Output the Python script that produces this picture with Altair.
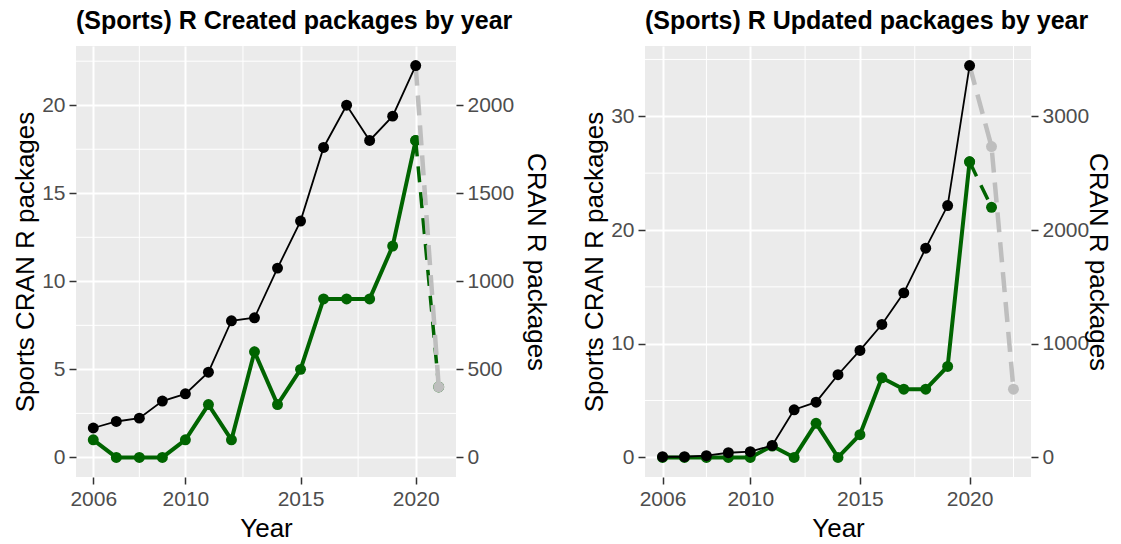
import altair as alt
import pandas as pd

# ---- Created packages (per year) ----
years = [2006, 2007, 2008, 2009, 2010, 2011, 2012, 2013, 2014,
         2015, 2016, 2017, 2018, 2019, 2020]
cran_created = [167, 204, 223, 320, 361, 484, 776, 793, 1075,
                1342, 1760, 2000, 1800, 1938, 2225]
sports_created = [1, 0, 0, 0, 1, 3, 1, 6, 3, 5, 9, 9, 9, 12, 18]
proj_years_created = [2020, 2021]
proj_cran_created = [2225, 400]
proj_sports_created = [18, 4]

# ---- Updated packages (per year) ----
cran_updated = [6, 6, 15, 41, 50, 105, 419, 486, 727,
                941, 1169, 1447, 1840, 2215, 3446]
sports_updated = [0, 0, 0, 0, 0, 1, 0, 3, 0, 2, 7, 6, 6, 8, 26]
proj_years_updated_cran = [2020, 2021, 2022]
proj_cran_updated = [3446, 2734, 600]
proj_years_updated_sports = [2020, 2021]
proj_sports_updated = [26, 22]

# ---- axis breaks ----
x_breaks = [2006, 2010, 2015, 2020]

FONT = "Liberation Sans"
GREEN = "#006400"
GREY = "#BEBEBE"
SEC = 100  # secondary axis = primary * 100


def expand(lo, hi, mult=0.05):
    span = hi - lo
    return [lo - span * mult, hi + span * mult]


def minor_breaks(breaks, lo, hi):
    b = list(breaks)
    step = b[1] - b[0]
    if lo < b[0]:
        b = [b[0] - step] + b
    if hi > b[-1]:
        b = b + [b[-1] + step]
    mids = [(a + c) / 2 for a, c in zip(b[:-1], b[1:])]
    return [m for m in mids if lo <= m <= hi and m not in breaks]


def panel(title, cran, sports, py_cran, p_cran, py_sports, p_sports,
          y_breaks, width, right_title_pad):
    all_years = years + py_cran + py_sports
    x_dom = expand(min(all_years), max(all_years))
    prim_max = max(max(cran) / SEC, max(sports), max(p_cran) / SEC, max(p_sports))
    y_dom = expand(0, prim_max)
    sec_dom = [v * SEC for v in y_dom]

    xs = alt.Scale(domain=x_dom, nice=False, zero=False)
    ys = alt.Scale(domain=y_dom, nice=False, zero=False)
    ss = alt.Scale(domain=sec_dom, nice=False, zero=False)
    x_axis = alt.Axis(values=x_breaks, format="d", title="Year", grid=True,
                      labelFlush=False, titlePadding=6)
    y_axis = alt.Axis(values=y_breaks, format="d", title="Sports CRAN R packages",
                      grid=True, labelFlush=False)
    s_axis = alt.Axis(values=[v * SEC for v in y_breaks], format="d",
                      title="CRAN R packages", orient="right", grid=False,
                      titlePadding=right_title_pad, labelFlush=False)

    obs = pd.DataFrame({"Year": years, "cran": cran, "sports": sports})
    proj_c = pd.DataFrame({"Year": py_cran, "cran": p_cran})
    proj_s = pd.DataFrame({"Year": py_sports, "sports": p_sports})
    mx = pd.DataFrame({"Year": minor_breaks(x_breaks, *x_dom)})
    my = pd.DataFrame({"sports": minor_breaks(y_breaks, *y_dom)})

    X = alt.X("Year:Q", scale=xs, axis=x_axis)
    Y = alt.Y("sports:Q", scale=ys, axis=y_axis)
    S = alt.Y("cran:Q", scale=ss, axis=s_axis)

    grid_x = alt.Chart(mx).mark_rule(color="white", strokeWidth=1).encode(x=X)
    grid_y = alt.Chart(my).mark_rule(color="white", strokeWidth=1).encode(y=Y)
    green_dash = alt.Chart(proj_s).mark_line(
        color=GREEN, strokeWidth=3.5, strokeDash=[16, 10]).encode(x=X, y=Y)
    green_line = alt.Chart(obs).mark_line(color=GREEN, strokeWidth=4).encode(x=X, y=Y)
    green_pts = alt.Chart(pd.concat([obs[["Year", "sports"]], proj_s])).mark_circle(
        color=GREEN, size=120, opacity=1).encode(x=X, y=Y)
    sports_layer = alt.layer(grid_x, grid_y, green_dash, green_line, green_pts)

    grey_dash = alt.Chart(proj_c).mark_line(
        color=GREY, strokeWidth=4.5, strokeDash=[20, 10]).encode(x=X, y=S)
    black_line = alt.Chart(obs).mark_line(color="black", strokeWidth=1.8).encode(x=X, y=S)
    black_pts = alt.Chart(obs).mark_circle(color="black", size=120, opacity=1).encode(x=X, y=S)
    grey_pts = alt.Chart(proj_c[proj_c["Year"] > max(years)]).mark_circle(
        color=GREY, size=120, opacity=1).encode(x=X, y=S)
    cran_layer = alt.layer(grey_dash, black_line, black_pts, grey_pts)

    return alt.layer(sports_layer, cran_layer).resolve_scale(y="independent").properties(
        width=width, height=431,
        title=alt.TitleParams(text=title, anchor="start", frame="group", offset=12,
                              fontSize=25, font=FONT, fontWeight="bold", color="black"),
    )


left = panel("(Sports) R Created packages by year", cran_created, sports_created,
             proj_years_created, proj_cran_created, proj_years_created, proj_sports_created,
             [0, 5, 10, 15, 20], 380, 9)
right = panel("(Sports) R Updated packages by year", cran_updated, sports_updated,
              proj_years_updated_cran, proj_cran_updated,
              proj_years_updated_sports, proj_sports_updated,
              [0, 10, 20, 30], 386, -4)

chart = alt.hconcat(left, right, spacing=32).properties(
    padding={"left": 12, "top": 8, "right": 4, "bottom": 0},
    background="white",
).configure_view(fill="#EBEBEB", stroke=None).configure_axis(
    labelFont=FONT, titleFont=FONT, labelFontSize=21, titleFontSize=26,
    labelColor="#4D4D4D", titleColor="black", titleFontWeight="normal",
    tickColor="#333333", tickSize=7, tickWidth=1.5, domain=False,
    gridColor="white", gridWidth=2, labelPadding=4, titlePadding=3,
)

chart.save("out.html", embed_options={"renderer": "svg", "actions": False})
